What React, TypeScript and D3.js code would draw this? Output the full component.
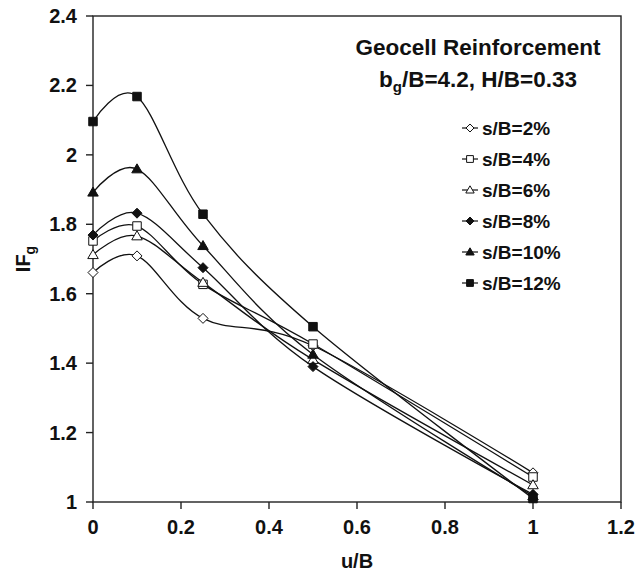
import React from 'react';
import * as d3 from 'd3';

// values
const uB = [0, 0.1, 0.25, 0.5, 1];
const sB2 = [1.661, 1.709, 1.529, 1.45, 1.084];
const sB4 = [1.752, 1.795, 1.627, 1.455, 1.072];
const sB6 = [1.712, 1.766, 1.632, 1.41, 1.049];
const sB8 = [1.769, 1.832, 1.675, 1.39, 1.022];
const sB10 = [1.892, 1.959, 1.738, 1.425, 1.017];
const sB12 = [2.096, 2.168, 1.829, 1.505, 1.01];
const seriesLabels = ['s/B=2%', 's/B=4%', 's/B=6%', 's/B=8%', 's/B=10%', 's/B=12%'];
const xTicks = [0, 0.2, 0.4, 0.6, 0.8, 1, 1.2];
const yTicks = [1, 1.2, 1.4, 1.6, 1.8, 2, 2.2, 2.4];

const W = 641;
const H = 572;
const FONT = '"Liberation Sans", Arial, sans-serif';

type Marker = 'diamond' | 'square' | 'triangle';

const series: { label: string; values: number[]; marker: Marker; filled: boolean }[] = [
  { label: seriesLabels[0], values: sB2, marker: 'diamond', filled: false },
  { label: seriesLabels[1], values: sB4, marker: 'square', filled: false },
  { label: seriesLabels[2], values: sB6, marker: 'triangle', filled: false },
  { label: seriesLabels[3], values: sB8, marker: 'diamond', filled: true },
  { label: seriesLabels[4], values: sB10, marker: 'triangle', filled: true },
  { label: seriesLabels[5], values: sB12, marker: 'square', filled: true },
];

// marker outline centered on 0,0
function markerPath(m: Marker, r: number) {
  if (m === 'diamond') return `M0,${-r}L${r},0L0,${r}L${-r},0Z`;
  if (m === 'square') return `M${-r * 0.85},${-r * 0.85}H${r * 0.85}V${r * 0.85}H${-r * 0.85}Z`;
  return `M0,${-r * 1.05}L${r * 1.05},${r * 0.75}L${-r * 1.05},${r * 0.75}Z`;
}

const fmt = (v: number) => String(+v.toFixed(1));

export default function App() {
  const x = d3.scaleLinear().domain([0, 1.2]).range([93, 621]);
  const y = d3.scaleLinear().domain([1, 2.4]).range([502, 16]);

  const line = d3
    .line<number>()
    .x((_, i) => x(uB[i]))
    .y((d) => y(d))
    .curve(d3.curveCatmullRom.alpha(0));

  const legendX = 470;
  const legendY0 = 128;
  const legendStep = 31;

  return (
    <svg
      width={W}
      height={H}
      style={{ position: 'absolute', left: 0, top: 0, background: '#fff' }}
      fontFamily={FONT}
      fontWeight="bold"
    >
      {/* plot frame */}
      <rect x={x(0)} y={y(2.4)} width={x(1.2) - x(0)} height={y(1) - y(2.4)} fill="none" stroke="#222" strokeWidth={1.4} />

      {/* y axis */}
      {yTicks.map((t) => (
        <g key={'y' + t}>
          <line x1={x(0) - 7} x2={x(0)} y1={y(t)} y2={y(t)} stroke="#222" strokeWidth={1.4} />
          <text x={77} y={y(t)} dy="0.35em" textAnchor="end" fontSize={20} fill="#111">
            {fmt(t)}
          </text>
        </g>
      ))}

      {/* x axis */}
      {xTicks.map((t) => (
        <g key={'x' + t}>
          <line x1={x(t)} x2={x(t)} y1={y(1)} y2={y(1) + 7} stroke="#222" strokeWidth={1.4} />
          <text x={x(t)} y={534} textAnchor="middle" fontSize={20} fill="#111">
            {fmt(t)}
          </text>
        </g>
      ))}

      <text x={(x(0) + x(1.2)) / 2} y={568} textAnchor="middle" fontSize={20} fill="#111">
        u/B
      </text>
      <text transform={`translate(30,${(y(1) + y(2.4)) / 2}) rotate(-90)`} textAnchor="middle" fontSize={20} fill="#111">
        IF<tspan fontSize={14} dy={5}>g</tspan>
      </text>

      {/* curves */}
      {series.map((s) => (
        <path key={s.label} d={line(s.values) || ''} fill="none" stroke="#111" strokeWidth={1.3} />
      ))}
      {series.map((s) =>
        s.values.map((v, i) => (
          <path
            key={s.label + i}
            d={markerPath(s.marker, 5)}
            transform={`translate(${x(uB[i])},${y(v)})`}
            fill={s.filled ? '#111' : '#fff'}
            stroke="#111"
            strokeWidth={1}
          />
        ))
      )}

      {/* title */}
      <text x={478} y={55} textAnchor="middle" fontSize={22.5} fill="#111">
        Geocell Reinforcement
      </text>
      <text x={478} y={87} textAnchor="middle" fontSize={22.5} fill="#111">
        b<tspan fontSize={15} dy={5}>g</tspan>
        <tspan dy={-5}>/B=4.2, H/B=0.33</tspan>
      </text>

      {/* legend */}
      {series.map((s, i) => {
        const ly = legendY0 + i * legendStep;
        return (
          <g key={'lg' + s.label}>
            <line x1={legendX - 8} x2={legendX + 8} y1={ly} y2={ly} stroke="#111" strokeWidth={1.2} />
            <path
              d={markerPath(s.marker, 4)}
              transform={`translate(${legendX},${ly})`}
              fill={s.filled ? '#111' : '#fff'}
              stroke="#111"
              strokeWidth={1}
            />
            <text x={legendX + 12} y={ly} dy="0.35em" fontSize={19} fill="#111">
              {s.label}
            </text>
          </g>
        );
      })}
    </svg>
  );
}
